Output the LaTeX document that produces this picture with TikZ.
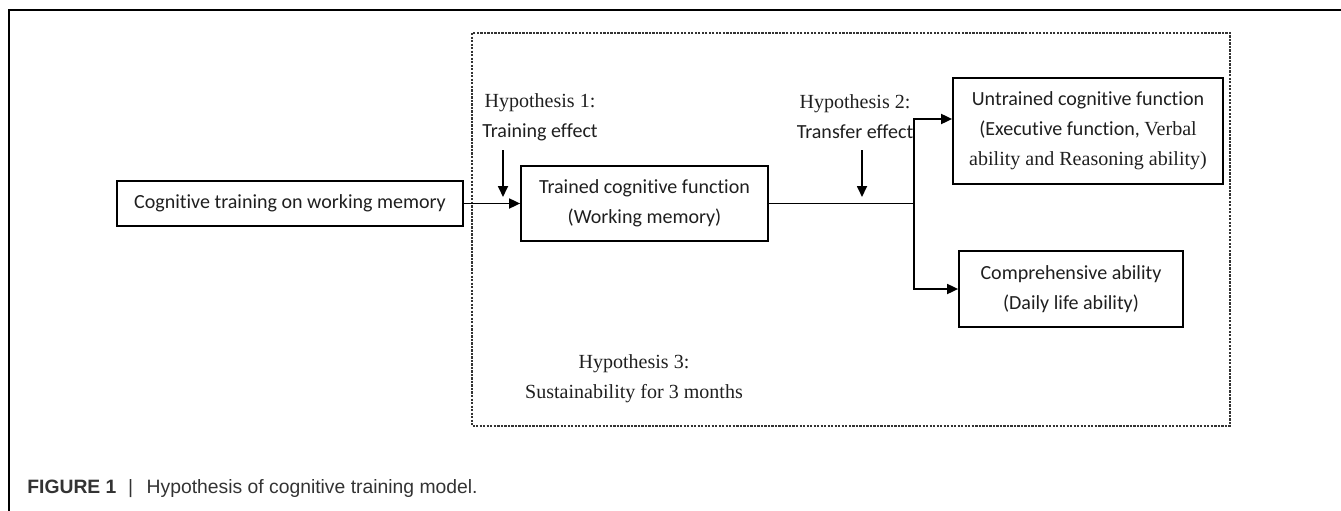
\documentclass[tikz,border=0pt]{standalone}
\usepackage{fontspec}
\setmainfont{Liberation Serif}
\setsansfont{Liberation Sans}
\newfontfamily\carlito[Ligatures=NoCommon]{Carlito}
\usetikzlibrary{arrows.meta,positioning}

\begin{document}
\begin{tikzpicture}[
  font=\fontsize{11.4}{17.1}\selectfont,
  box/.style={
    draw, line width=1pt, align=center, inner sep=0pt, text=black!88,
    font=\carlito\fontsize{11.4}{17.1}\selectfont
  },
  hyp/.style={align=center, inner sep=0pt, text=black!88},
  flow/.style={-{Triangle[length=2.2mm, width=2mm]}, line width=1pt},
  frame/.style={dash pattern=on 1.3pt off 0.7pt, line width=1pt, black!80},
]
\useasboundingbox (0,0) rectangle (26.82,-10.22);

% ---- page frame and the dashed study box --------------------------------
\draw[line width=0.8pt] (26.82,-0.20) -- (0.18,-0.20) -- (0.18,-10.22);
\draw[frame] (9.44,-0.66) rectangle (24.60,-8.52);

% ---- boxes ----------------------------------------------------------------
\node[box, minimum width=6.92cm, minimum height=0.90cm] (train) at (5.80,-4.07)
  {Cognitive training on working memory};
\node[box, minimum width=4.94cm, minimum height=1.50cm] (trained) at (12.89,-4.07)
  {Trained cognitive function\\ (Working memory)};
\node[box, minimum width=5.40cm, minimum height=2.12cm] (untrained) at (21.76,-2.62)
  {Untrained cognitive function\\ (Executive function, {\rmfamily Verbal}\\
   {\rmfamily ability and Reasoning ability)}};
\node[box, minimum width=4.48cm, minimum height=1.52cm] (compre) at (21.42,-5.78)
  {Comprehensive ability\\ (Daily life ability)};

% ---- hypotheses -----------------------------------------------------------
\node[hyp] (hypA) at (10.80,-2.34)
  {Hypothesis 1:\\ {\carlito Training effect}};
\node[hyp] (hypB) at (17.10,-2.34)
  {Hypothesis 2:\\ {\carlito Transfer effect}};
\node[hyp] (hypC) at (12.68,-7.58)
  {Hypothesis 3:\\ Sustainability for 3 months};

% ---- connectors -----------------------------------------------------------
\coordinate (split) at (18.28,-4.07);
\coordinate (effA) at (10.06,-3.00);
\coordinate (effB) at (17.24,-3.00);

\draw[flow] (train.east) -- (trained.west);
\draw[line width=1pt] (trained.east) -- (split);
\draw[flow] (split) |- ([yshift=2.4mm]untrained.west);
\draw[flow] (split) |- (compre.west);
\draw[flow] (effA) -- ++(0,-0.94);
\draw[flow] (effB) -- ++(0,-0.94);

% ---- caption --------------------------------------------------------------
\node[anchor=west, inner sep=0pt, text=black!80,
      font=\sffamily\fontsize{11}{13}\selectfont] (caption) at (0.54,-9.78)
  {\textbf{FIGURE 1}\hspace{0.6em}|\hspace{0.7em}Hypothesis of cognitive training model.};
\end{tikzpicture}
\end{document}
